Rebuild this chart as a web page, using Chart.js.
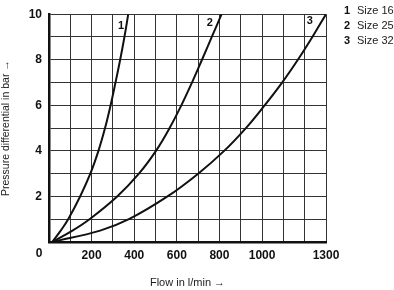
<!DOCTYPE html>
<html>
<head>
<meta charset="utf-8">
<script src="https://cdn.jsdelivr.net/npm/chart.js@4"></script>
<style>
html,body{margin:0;padding:0;background:#fff;}
#wrap{width:394px;height:290px;position:relative;}
</style>
</head>
<body>
<div id="wrap"><canvas id="c" width="394" height="290"></canvas></div>
<script>
// ---- data ----
const pressure = [0, 0.5, 1, 2, 3, 4, 5, 6, 7, 8, 9, 10];
const size16Flow = [15, 55, 90, 146, 194, 232, 263, 289, 312, 334, 354, 372];
const size25Flow = [15, 110, 190, 320, 422, 502, 566, 621, 671, 718, 764, 810];
const size32Flow = [15, 240, 375, 556, 700, 822, 924, 1012, 1094, 1168, 1236, 1300];
const seriesNames = ['Size 16', 'Size 25', 'Size 32'];
const seriesNumbers = ['1', '2', '3'];
const curveLabelFlow = [338, 755, 1224];
const curveLabelPressure = [9.5, 9.6, 9.7];
const xTickLabels = [200, 400, 600, 800, 1000, 1300];
const yTickLabels = [2, 4, 6, 8, 10];
const xTitle = 'Flow in l/min \u2192';
const yTitle = 'Pressure differential in bar \u2192';

const NARROW = '"Liberation Sans Narrow", "Liberation Sans", Arial, sans-serif';
const BOLD = '"Liberation Sans", Arial, sans-serif';

function pts(flow){ return flow.map((f,i)=>({x:f, y:pressure[i]})); }

const extras = {
  id:'extras',
  afterDraw(chart){
    const ctx = chart.ctx, xs = chart.scales.x, ys = chart.scales.y;
    ctx.save();
    ctx.fillStyle = '#111';
    ctx.font = 'bold 12px ' + BOLD;
    ctx.textAlign = 'center'; ctx.textBaseline = 'middle';
    ctx.fillText('0', xs.getPixelForValue(0) - 10, ys.getPixelForValue(0) + 12);
    ctx.font = 'bold 11px ' + BOLD;
    for (let i=0;i<seriesNumbers.length;i++){
      ctx.fillText(seriesNumbers[i], xs.getPixelForValue(curveLabelFlow[i]), ys.getPixelForValue(curveLabelPressure[i]));
    }
    for (let i=0;i<seriesNames.length;i++){
      const y = 11 + i*15;
      ctx.textAlign = 'left';
      ctx.font = 'bold 11px ' + BOLD;
      ctx.fillStyle = '#111';
      ctx.fillText(seriesNumbers[i], 344, y);
      ctx.font = '11px ' + NARROW;
      ctx.fillStyle = '#222';
      ctx.fillText(seriesNames[i], 357, y);
    }
    ctx.restore();
  }
};

const ds = (flow, name) => ({
  label: name, data: pts(flow), showLine: true, borderColor: '#111', borderWidth: 2,
  pointRadius: 0, tension: 0.4, fill: false
});

new Chart(document.getElementById('c'), {
  type: 'scatter',
  data: { datasets: [ds(size16Flow, seriesNames[0]), ds(size25Flow, seriesNames[1]), ds(size32Flow, seriesNames[2])] },
  options: {
    responsive: false, animation: false, events: [],
    layout: { padding: { top: 7, right: 68, left: 0, bottom: 0 } },
    plugins: { legend: { display: false }, tooltip: { enabled: false } },
    scales: {
      x: {
        type: 'linear', min: 0, max: 1300,
        afterBuildTicks(s){ const t=[]; for(let v=0; v<=1300; v+=100) t.push({value:v}); s.ticks=t; },
        afterFit(s){ s.height = 48; },
        ticks: { autoSkip: false, maxRotation: 0, padding: 6, color: '#111',
          font: { family: BOLD, size: 12, weight: 'bold' },
          callback(v){ return xTickLabels.includes(v) ? String(v) : ''; } },
        grid: { color: '#333', lineWidth: 1, drawTicks: false },
        border: { display: true, color: '#111', width: 2.5 },
        title: { display: true, text: xTitle, color: '#222', font: { family: NARROW, size: 11 }, padding: { top: 0, bottom: 0 } }
      },
      y: {
        type: 'linear', min: 0, max: 10,
        afterBuildTicks(s){ const t=[]; for(let v=0; v<=10; v+=1) t.push({value:v}); s.ticks=t; },
        afterFit(s){ s.width = 49; },
        ticks: { autoSkip: false, padding: 7, color: '#111',
          font: { family: BOLD, size: 12, weight: 'bold' },
          callback(v){ return yTickLabels.includes(v) ? String(v) : ''; } },
        grid: { color: '#333', lineWidth: 1, drawTicks: false },
        border: { display: true, color: '#111', width: 2.5 },
        title: { display: true, text: yTitle, color: '#222', font: { family: NARROW, size: 10.5 }, padding: { top: 0, bottom: 0 } }
      }
    }
  },
  plugins: [extras]
});
</script>
</body>
</html>
